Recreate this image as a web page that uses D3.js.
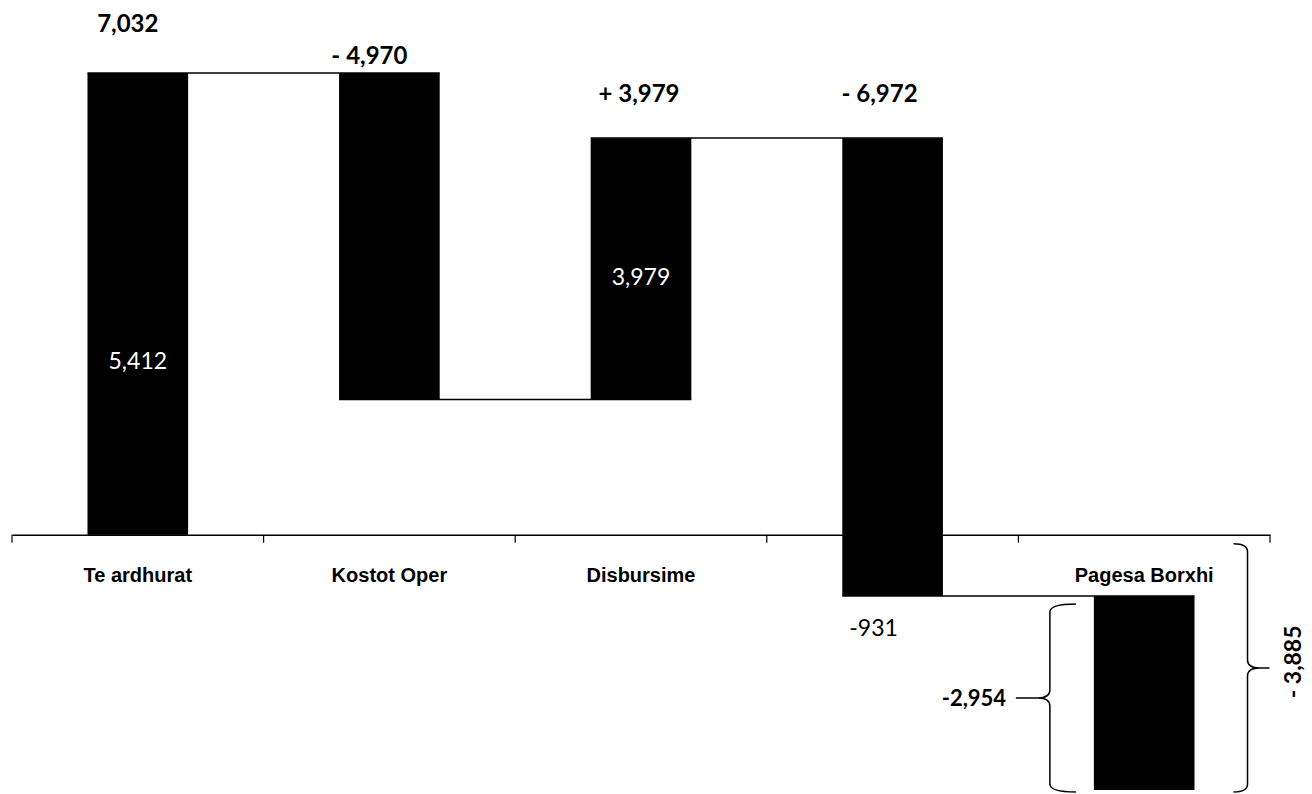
<!DOCTYPE html>
<html>
<head>
<meta charset="utf-8">
<script src="https://cdn.jsdelivr.net/npm/d3@7.9.0/dist/d3.min.js"></script>
<style>
  body { margin: 0; background: #fff; }
  svg { display: block; font-family: Lato, 'Open Sans', sans-serif; }
</style>
</head>
<body>
<svg id="chart" width="1312" height="794"></svg>
<script>
// ====== Data ======
const categories = ['Te ardhurat', 'Kostot Oper', 'Disbursime', '', 'Pagesa Borxhi'];
const changes = [7032, -4970, 3979, -6972, -2954];
const topLabels = ['7,032', '- 4,970', '+ 3,979', '- 6,972', null];
const innerLabels = ['5,412', null, '3,979', null, null];
const endLabel = '-931';
const stepLabel = '-2,954';
const totalLabel = '- 3,885';

// ====== Cumulative levels ======
let level = 0;
const bars = changes.map((v, i) => {
  const start = level;
  level += v;
  return { cat: categories[i], start, end: level, i };
});
const finalLevel = level;

// ====== Scales ======
const svg = d3.select('#chart');
const x = d3.scaleBand()
  .domain(d3.range(categories.length))
  .range([12, 1270])
  .paddingInner(0.6)
  .paddingOuter(0.3);
const y = d3.scaleLinear()
  .domain([finalLevel, 7032])
  .range([790, 73]);

// ====== Axis ======
const axis = d3.axisBottom(x)
  .tickSize(0)
  .tickFormat((d) => categories[d]);
const gx = svg.append('g')
  .attr('transform', `translate(0,${y(0)})`)
  .call(axis);
gx.select('.domain').attr('stroke', '#000').attr('stroke-width', 1.5);
gx.selectAll('text')
  .attr('dy', 0)
  .attr('y', 47)
  .attr('fill', '#000')
  .style('font-size', '20px')
  .style('font-weight', 700);

// boundary ticks
const step = x.step();
const boundaries = d3.range(categories.length + 1).map((k) => 12 + k * step);
svg.append('g').selectAll('line')
  .data(boundaries)
  .join('line')
  .attr('x1', (d) => d).attr('x2', (d) => d)
  .attr('y1', y(0)).attr('y2', y(0) + 8)
  .attr('stroke', '#000').attr('stroke-width', 1.2);

// ====== Connectors ======
svg.append('g').selectAll('line')
  .data(bars.slice(1))
  .join('line')
  .attr('x1', (d) => x(d.i - 1))
  .attr('x2', (d) => x(d.i) + x.bandwidth())
  .attr('y1', (d) => y(d.start))
  .attr('y2', (d) => y(d.start))
  .attr('stroke', '#000')
  .attr('stroke-width', 1.5);

// ====== Bars ======
svg.append('g').selectAll('rect')
  .data(bars)
  .join('rect')
  .attr('x', (d) => x(d.i))
  .attr('width', x.bandwidth())
  .attr('y', (d) => y(Math.max(d.start, d.end)))
  .attr('height', (d) => Math.abs(y(d.start) - y(d.end)))
  .attr('fill', '#000');

// ====== Labels ======
const cx = (i) => x(i) + x.bandwidth() / 2;
const topY = [32, 64, 102, 102];
const topDx = [-10, -20, -2, -13];
svg.append('g').selectAll('text')
  .data(bars.filter((d) => topLabels[d.i]))
  .join('text')
  .attr('x', (d) => cx(d.i) + topDx[d.i])
  .attr('y', (d) => topY[d.i])
  .attr('text-anchor', 'middle')
  .style('font-size', '24px')
  .style('font-weight', 700)
  .text((d) => topLabels[d.i]);

svg.append('g').selectAll('text')
  .data(bars.filter((d) => innerLabels[d.i]))
  .join('text')
  .attr('x', (d) => cx(d.i))
  .attr('y', (d) => d.i === 0 ? 369 : 285)
  .attr('text-anchor', 'middle')
  .attr('fill', '#fff')
  .style('font-size', '23px')
  .text((d) => innerLabels[d.i]);

svg.append('text')
  .attr('x', cx(3) - 19)
  .attr('y', y(bars[3].end) + 40)
  .attr('text-anchor', 'middle')
  .style('font-size', '23px')
  .text(endLabel);

// ====== Braces ======
function brace(xs, y0, y1, dir, hook, tip) {
  const ym = (y0 + y1) / 2;
  const r = 8;
  const p = d3.path();
  p.moveTo(xs - dir * hook, y0);
  p.quadraticCurveTo(xs, y0, xs, y0 + r);
  p.lineTo(xs, ym - r);
  p.quadraticCurveTo(xs, ym, xs + dir * r * 1.5, ym);
  p.lineTo(xs + dir * tip, ym);
  p.moveTo(xs + dir * r * 1.5, ym);
  p.quadraticCurveTo(xs, ym, xs, ym + r);
  p.lineTo(xs, y1 - r);
  p.quadraticCurveTo(xs, y1, xs - dir * hook, y1);
  svg.append('path')
    .attr('d', p.toString())
    .attr('fill', 'none')
    .attr('stroke', '#000')
    .attr('stroke-width', 1.5);
  return ym;
}

const b5 = bars[4];
const ySmall = brace(x(4) - 44, y(b5.start) + 8, y(b5.end) + 2, -1, 26, 34);
svg.append('text')
  .attr('x', x(4) - 120)
  .attr('y', ySmall + 8)
  .attr('text-anchor', 'middle')
  .style('font-size', '22px')
  .style('font-weight', 700)
  .text(stepLabel);

const bigX = x(4) + x.bandwidth() + 53;
const yBig = brace(bigX, y(0) + 9, y(finalLevel) + 2, 1, 14, 22);
svg.append('text')
  .attr('transform', `translate(${bigX + 53},${yBig - 6}) rotate(-90)`)
  .attr('text-anchor', 'middle')
  .style('font-size', '23px')
  .style('font-weight', 700)
  .text(totalLabel);
</script>
</body>
</html>
